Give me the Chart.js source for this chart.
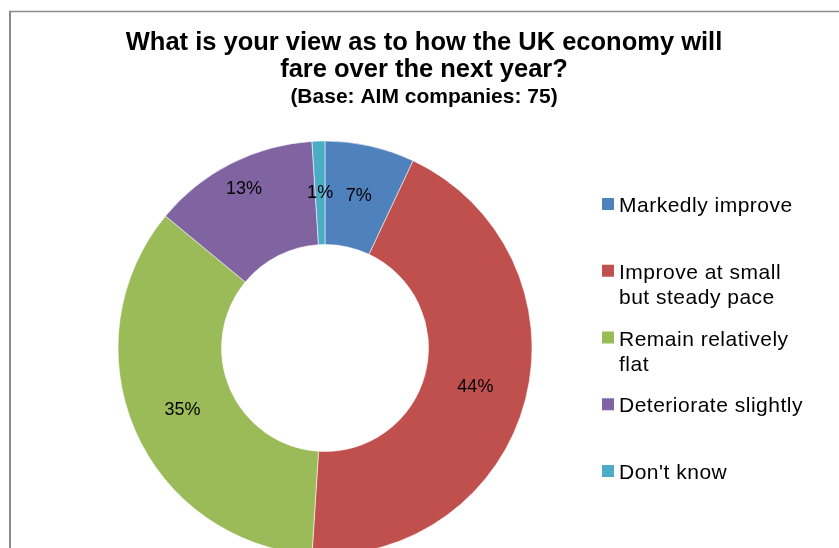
<!DOCTYPE html>
<html>
<head>
<meta charset="utf-8">
<script src="https://cdn.jsdelivr.net/npm/chart.js@4/dist/chart.umd.min.js"></script>
<style>
  html, body { margin: 0; padding: 0; background: #fff; overflow: hidden; }
  canvas { display: block; }
</style>
</head>
<body>
<canvas id="outlookChart" width="839" height="548"></canvas>
<script>
const titleLines = ['What is your view as to how the UK economy will', 'fare over the next year?'];
const subtitle = '(Base: AIM companies: 75)';
const categories = ['Markedly improve', 'Improve at small but steady pace', 'Remain relatively flat', 'Deteriorate slightly', "Don't know"];
const shares = [7, 44, 35, 13, 1];
const sliceColors = ['#4F81BD', '#C0504D', '#9BBB59', '#8064A2', '#4BACC6'];
// the 13% label sits a little further out than the others
const labelNudge = [0, 0, 0, 23, 0];

const FONT = '"Liberation Sans", Arial, sans-serif';

function wrapText(ctx, text, maxWidth) {
    const words = text.split(' ');
    const lines = [];
    let line = '';
    words.forEach(w => {
        const test = line ? line + ' ' + w : w;
        if (line && ctx.measureText(test).width > maxWidth) {
            lines.push(line);
            line = w;
        } else {
            line = test;
        }
    });
    if (line) lines.push(line);
    return lines;
}

const frame = {
    id: 'frame',
    beforeDraw(chart) {
        const ctx = chart.ctx;
        ctx.save();
        ctx.strokeStyle = '#8c8c8c';
        ctx.lineWidth = 2;
        ctx.beginPath();
        ctx.moveTo(10, 2000);
        ctx.lineTo(10, 11.5);
        ctx.stroke();
        ctx.lineWidth = 1.5;
        ctx.beginPath();
        ctx.moveTo(9, 11.5);
        ctx.lineTo(chart.width, 11.5);
        ctx.stroke();
        ctx.restore();
    }
};

const headings = {
    id: 'headings',
    afterDraw(chart) {
        const ctx = chart.ctx;
        ctx.save();
        ctx.fillStyle = '#000';
        ctx.textAlign = 'center';
        ctx.textBaseline = 'alphabetic';
        ctx.font = 'bold 25.5px ' + FONT;
        ctx.fillText(titleLines[0], 424, 50);
        ctx.fillText(titleLines[1], 424, 77);
        ctx.font = 'bold 21px ' + FONT;
        ctx.fillText(subtitle, 424, 103);
        ctx.restore();
    }
};

const sideLegend = {
    id: 'sideLegend',
    afterDraw(chart) {
        const ctx = chart.ctx;
        ctx.save();
        ctx.font = '21px ' + FONT;
        ctx.letterSpacing = '0.5px';
        ctx.textAlign = 'left';
        ctx.textBaseline = 'alphabetic';
        categories.forEach((name, i) => {
            const base = 212 + i * 66.75;
            ctx.fillStyle = sliceColors[i];
            ctx.fillRect(602, base - 14, 12, 12);
            ctx.fillStyle = '#000';
            wrapText(ctx, name, 188).forEach((ln, j) => {
                ctx.fillText(ln, 619, base + j * 25);
            });
        });
        ctx.restore();
    }
};

const sliceLabels = {
    id: 'sliceLabels',
    afterDatasetsDraw(chart) {
        const ctx = chart.ctx;
        const meta = chart.getDatasetMeta(0);
        ctx.save();
        ctx.font = '18px ' + FONT;
        ctx.fillStyle = '#000';
        ctx.textAlign = 'center';
        ctx.textBaseline = 'middle';
        meta.data.forEach((arc, i) => {
            const p = arc.getProps(['x', 'y', 'startAngle', 'endAngle', 'innerRadius', 'outerRadius'], true);
            const mid = (p.startAngle + p.endAngle) / 2;
            const r = (p.innerRadius + p.outerRadius) / 2 + labelNudge[i];
            ctx.fillText(shares[i] + '%', p.x + Math.cos(mid) * r, p.y + Math.sin(mid) * r);
        });
        ctx.restore();
    }
};

new Chart(document.getElementById('outlookChart'), {
    type: 'doughnut',
    data: {
        labels: categories,
        datasets: [{
            data: shares,
            backgroundColor: sliceColors,
            borderColor: 'rgba(255,255,255,0.55)',
            borderWidth: 1,
            clip: false
        }]
    },
    options: {
        responsive: false,
        animation: false,
        radius: 207,
        cutout: '50%',
        layout: { padding: { left: 118, right: 307, top: 148, bottom: 0 } },
        plugins: {
            legend: { display: false },
            title: { display: false },
            tooltip: { enabled: false }
        }
    },
    plugins: [frame, sliceLabels, headings, sideLegend]
});
</script>
</body>
</html>
